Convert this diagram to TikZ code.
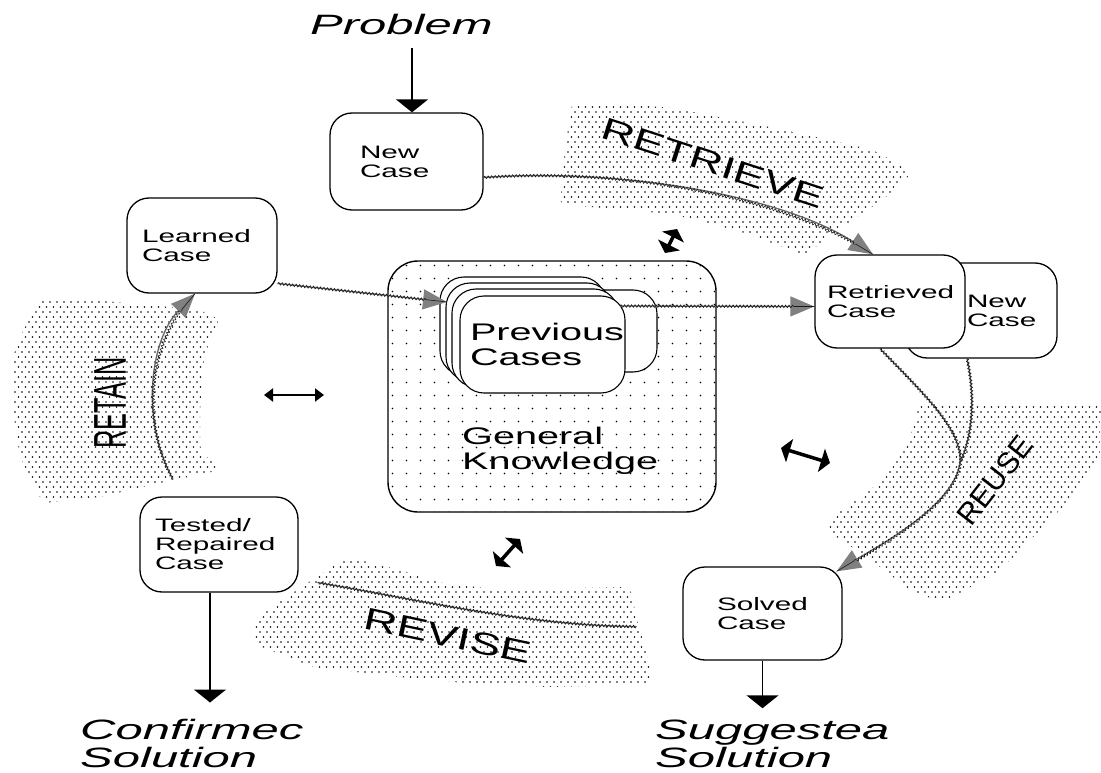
\documentclass[tikz,border=0pt]{standalone}
\usepackage{fontspec}
\setmainfont{Liberation Sans}
\newfontfamily\boxfnt[FakeStretch=1.65]{Liberation Sans}
\newfontfamily\iofnt[FakeStretch=1.75]{Liberation Sans}
\newfontfamily\stgfnt[FakeStretch=1.5]{Liberation Sans}
\newfontfamily\retfnt[FakeStretch=0.55]{Liberation Sans}
\usetikzlibrary{arrows.meta,patterns,decorations.pathmorphing}
\hyphenpenalty=10000
\exhyphenpenalty=10000
\pgfdeclarepatternformonly{banddots}{\pgfqpoint{-1pt}{-1pt}}{\pgfqpoint{8pt}{11pt}}{\pgfqpoint{7pt}{10pt}}{%
  \pgfpathcircle{\pgfqpoint{1pt}{1pt}}{0.95pt}%
  \pgfpathcircle{\pgfqpoint{4.5pt}{6pt}}{0.95pt}%
  \pgfusepath{fill}}
\pgfdeclarepatternformonly{gkdots}{\pgfqpoint{-1pt}{-1pt}}{\pgfqpoint{2pt}{2pt}}{\pgfqpoint{14pt}{13pt}}{%
  \pgfpathcircle{\pgfqpoint{0.5pt}{0.5pt}}{0.9pt}%
  \pgfusepath{fill}}
\begin{document}
\begin{tikzpicture}[x=1pt,y=-1pt,
  box/.style={draw, line width=1.3pt, rounded corners=22pt, fill=white, align=left, inner ysep=0pt,
    font={\boxfnt\fontsize{18}{19}\selectfont}},
  card/.style={draw, line width=1.1pt, rounded corners=24pt, fill=white},
  band/.style={pattern=banddots, rounded corners=6pt},
  stage/.style={font={\stgfnt\fontsize{31}{31}\selectfont}, inner sep=0pt},
  io/.style={font={\iofnt\itshape\fontsize{28}{30}\selectfont}, inner sep=0pt, anchor=base west},
  flow/.style={draw=black!60, line width=1.3pt, -{Triangle[length=24pt,width=20pt,color=black!50]},
    postaction={draw=black!90, line width=0.6pt, arrows=-, decorate,
      decoration={snake, segment length=3.5pt, amplitude=1.3pt, post length=20pt}}},
  flowplain/.style={draw=black!60, line width=1.3pt,
    postaction={draw=black!90, line width=0.6pt, decorate,
      decoration={snake, segment length=3.5pt, amplitude=1.3pt}}},
  blk/.style={line width=1.8pt, -{Triangle[length=13pt,width=32pt]}},
  bidir/.style={line width=3.5pt, {Triangle[length=9pt,width=24pt]}-{Triangle[length=9pt,width=24pt]}},
  bidirthin/.style={line width=2pt, {Triangle[length=9pt,width=13pt]}-{Triangle[length=9pt,width=13pt]}}
]
\useasboundingbox (0,0) rectangle (1101,773);

% stippled bands
\fill[band] (572,103) -- (620,104) -- (673,108) -- (760,125) -- (830,140) -- (873,150) -- (913,172)
  -- (885,198) -- (860,215) -- (830,236) -- (805,255) -- (745,233) -- (690,218) -- (637,210)
  -- (560,205) -- (565,150) -- cycle;
\fill[band] (920,403) -- (1101,403) -- (1100,460) -- (1077,493) -- (1040,530) -- (1000,570)
  -- (943,603) -- (910,590) -- (867,557) -- (823,528) -- (833,517) -- (883,480) -- (910,437) -- cycle;
\fill[band] (347,557) -- (400,570) -- (437,582) -- (500,590) -- (570,588) -- (630,587) -- (637,620)
  -- (647,653) -- (653,683) -- (600,686) -- (547,687) -- (467,683) -- (400,677) -- (313,667)
  -- (257,645) -- (253,620) -- (300,588) -- cycle;
\fill[band] (40,298) -- (117,302) -- (200,310) -- (220,320) -- (207,347) -- (203,370) -- (200,410)
  -- (200,450) -- (220,470) -- (160,483) -- (100,497) -- (43,503) -- (20,457) -- (13,410)
  -- (13,357) -- (20,337) -- cycle;

% stage labels
\node[stage, rotate=-18] (tretrieve) at (713,163) {RETRIEVE};
\node[inner sep=0pt, font={\fontsize{30}{30}\selectfont}, rotate=52] (treuse) at (995,480) {REUSE};
\node[stage, rotate=-12] (trevise) at (448,636) {REVISE};
\node[inner sep=0pt, font={\retfnt\fontsize{46}{46}\selectfont}, rotate=90] (tretain) at (110,403) {RETAIN};

% general knowledge and previous cases
\node[draw, line width=1.4pt, rounded corners=30pt, pattern=gkdots,
  minimum width=328pt, minimum height=251pt] (gk) at (552,386.5) {};
\node[card, minimum width=157pt, minimum height=82pt] (cA) at (578.5,331) {};
\node[card, minimum width=165pt, minimum height=98pt] (cB) at (522.5,326) {};
\node[card, minimum width=165pt, minimum height=98pt] (cC) at (528.5,332) {};
\node[card, minimum width=166pt, minimum height=98pt] (cD) at (535,338) {};
\node[card, minimum width=165pt, minimum height=97pt, align=left, text width=145pt, inner xsep=10pt,
  inner ysep=0pt, font={\boxfnt\fontsize{24}{25}\selectfont}] (cE) at (542.5,344.5) {Previous\\Cases};
\node[anchor=north west, inner sep=0pt, align=left, font={\boxfnt\fontsize{24}{25}\selectfont}]
  (gktext) at (462,427) {General\\Knowledge};

% case boxes
\node[box, minimum width=153pt, minimum height=97pt, text width=93pt, inner xsep=30pt] (newcase) at (406.5,161.5) {New\\Case};
\node[box, minimum width=150pt, minimum height=95pt, text width=120pt, inner xsep=15pt] (learned) at (202,245.5) {Learned\\Case};
\node[box, minimum width=152pt, minimum height=95pt, text width=28pt, inner xsep=62pt] (newcase2) at (981,310.5) {New\\Case};
\node[box, minimum width=150pt, minimum height=93pt, text width=126pt, inner xsep=12pt] (retrieved) at (890,301.5) {Retrieved\\Case};
\node[box, minimum width=159pt, minimum height=93pt, text width=91pt, inner xsep=34pt] (solved) at (762.5,613.5) {Solved\\Case};
\node[box, minimum width=158pt, minimum height=95pt, text width=128pt, inner xsep=15pt] (tested) at (219,544.5) {Tested/\\Repaired\\Case};

% input / output labels
\node[io] (problem) at (310,35) {Problem};
\node[io] (conf1) at (80,739) {Confirmec};
\node[io] (conf2) at (80,767) {Solution};
\node[io] (sugg1) at (655,739) {Suggestea};
\node[io] (sugg2) at (655,767) {Solution};

% flow connectors
\coordinate (previn) at (447,302);
\coordinate (prevout) at (620,306);
\coordinate (merge) at (960,462);
\draw[flow] ([yshift=-16pt]newcase.east) .. controls (620,168) and (780,195) .. ([xshift=-17pt]retrieved.north);
\draw[flow] ([yshift=-38pt]learned.east) -- (previn);
\draw[flow] (prevout) -- ([yshift=-5pt]retrieved.west);
\draw[flowplain] ([xshift=-14pt]newcase2.south) .. controls (975,395) and (973,435) .. (merge);
\draw[flow] ([xshift=-10pt]retrieved.south) .. controls (925,395) and (962,430) .. (merge)
  .. controls (955,505) and (880,545) .. ([xshift=-6pt,yshift=-5pt]solved.north east);
\draw[flowplain] ([xshift=-46pt,yshift=-13pt]solved.west) .. controls (530,626) and (420,600) .. ([xshift=19pt,yshift=-38pt]tested.east);
\draw[flow] ([xshift=-46pt,yshift=17pt]tested.north) .. controls (140,420) and (150,340) .. ([xshift=-7pt]learned.south);

% input / output arrows
\draw[blk, shorten <=13pt] ([xshift=5.5pt]newcase.north |- problem.south) -- ([xshift=5.5pt]newcase.north);
\draw[blk, shorten >=16pt] ([xshift=-9pt]tested.south) -- ([xshift=-9pt]tested.south |- conf1.north);
\draw[blk, shorten >=11pt] (solved.south) -- (solved.south |- sugg1.north);

% knowledge interaction arrows
\coordinate (b1a) at (665,253); \coordinate (b1b) at (677,229);
\coordinate (b2a) at (264,395); \coordinate (b2b) at (324,395);
\coordinate (b3a) at (781,448); \coordinate (b3b) at (830,463);
\coordinate (b4a) at (496,566); \coordinate (b4b) at (520,539);
\draw[bidir] (b1a) -- (b1b);
\draw[bidirthin] (b2a) -- (b2b);
\draw[bidir] (b3a) -- (b3b);
\draw[bidir] (b4a) -- (b4b);
\end{tikzpicture}
\end{document}
